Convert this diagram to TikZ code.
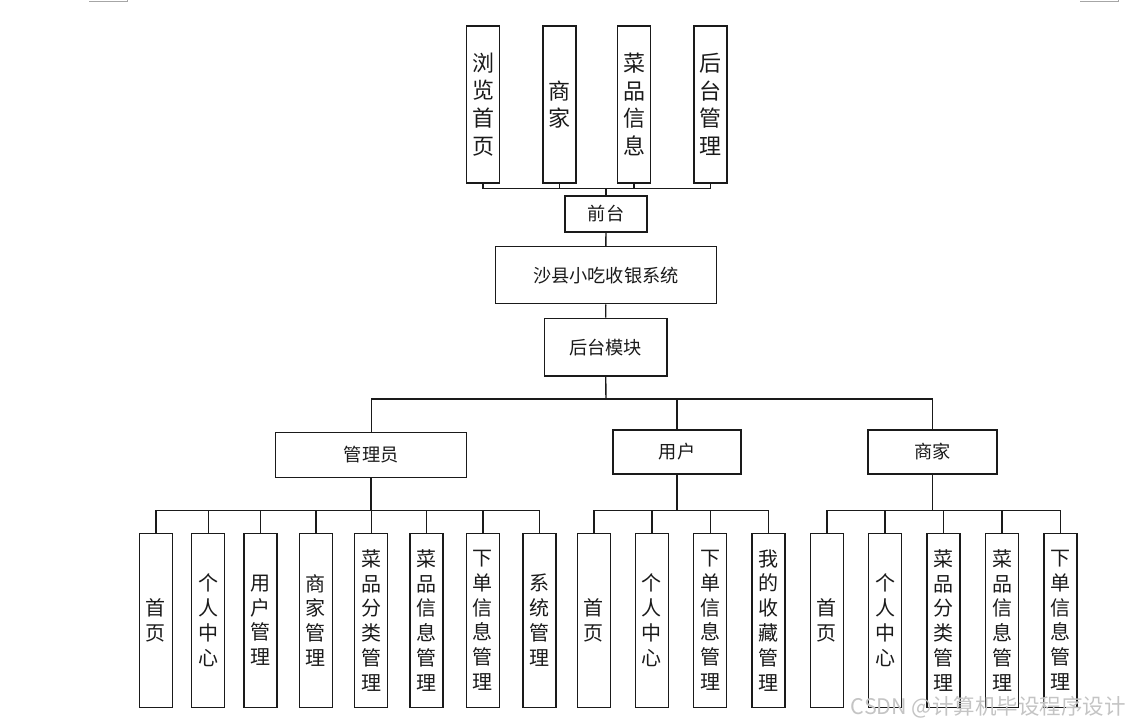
\documentclass[tikz,border=0pt]{standalone}
\usepackage{fontspec}
\newfontfamily\cjk{Noto Sans CJK SC}
\definecolor{ink}{HTML}{1A1A1A}
\definecolor{wm}{HTML}{C4C4C4}
\begin{document}
\begin{tikzpicture}[x=1pt,y=-1pt,
  box/.style={draw=ink, line width=1.4pt, inner sep=0pt, align=center, text=ink},
  vtop/.style={box, minimum width=33pt, minimum height=157pt, font=\cjk\fontsize{22}{27.7}\selectfont},
  vbot/.style={box, minimum width=33pt, minimum height=174pt, font=\cjk\fontsize{20}{24.8}\selectfont},
  hbox/.style={box, font=\cjk\fontsize{18.2}{20}\selectfont},
  ln/.style={draw=ink, line width=1.4pt}]
\useasboundingbox (0,0) rectangle (1130,727);
% page corner marks
\draw[gray!70, line width=0.8pt] (89,1) -- (127,1) -- (127,0);
\draw[gray!70, line width=0.8pt] (1080,1) -- (1118,1) -- (1118,0);
% top
\node[vtop] (t1) at (483,104.5) {浏\\览\\首\\页};
\node[vtop] (t2) at (559.3,104.5) {商\\家};
\node[vtop] (t3) at (634,104.5) {菜\\品\\信\\息};
\node[vtop] (t4) at (710.3,104.5) {后\\台\\管\\理};
\node[hbox, minimum width=82pt, minimum height=36pt] (qt) at (606,214) {前台};
\node[hbox, minimum width=221pt, minimum height=57pt] (sys) at (605.8,275.3) {沙县小吃收银系统};
\node[hbox, minimum width=122.7pt, minimum height=57.7pt] (bk) at (605.7,347.2) {后台模块};
\node[hbox, minimum width=191pt, minimum height=44.6pt] (adm) at (371.2,455) {管理员};
\node[hbox, minimum width=128pt, minimum height=44pt] (usr) at (677,452) {用户};
\node[hbox, minimum width=129pt, minimum height=44pt] (mer) at (932.5,452) {商家};
% admin children
\node[vbot] (a1) at (155.8,620.3) {首\\页};
\node[vbot] (a2) at (208.2,620.3) {个\\人\\中\\心};
\node[vbot] (a3) at (260.5,620.3) {用\\户\\管\\理};
\node[vbot] (a4) at (315.8,620.3) {商\\家\\管\\理};
\node[vbot] (a5) at (371.2,620.3) {菜\\品\\分\\类\\管\\理};
\node[vbot] (a6) at (426.5,620.3) {菜\\品\\信\\息\\管\\理};
\node[vbot] (a7) at (482.8,620.3) {下\\单\\信\\息\\管\\理};
\node[vbot] (a8) at (539.5,620.3) {系\\统\\管\\理};
% user children
\node[vbot] (u1) at (593.8,620.3) {首\\页};
\node[vbot] (u2) at (651.8,620.3) {个\\人\\中\\心};
\node[vbot] (u3) at (710.2,620.3) {下\\单\\信\\息\\管\\理};
\node[vbot] (u4) at (768.4,620.3) {我\\的\\收\\藏\\管\\理};
% merchant children
\node[vbot] (m1) at (826.8,620.3) {首\\页};
\node[vbot] (m2) at (885,620.3) {个\\人\\中\\心};
\node[vbot] (m3) at (943.6,620.3) {菜\\品\\分\\类\\管\\理};
\node[vbot] (m4) at (1002,620.3) {菜\\品\\信\\息\\管\\理};
\node[vbot] (m5) at (1060.4,620.3) {下\\单\\信\\息\\管\\理};
% bus coordinates
\coordinate (b1) at (606,188.3);
\coordinate (b2) at (606,399);
\coordinate (ba) at (371.2,510.7);
\coordinate (bu) at (677,510.7);
\coordinate (bm) at (932.5,510.7);
% connectors
\foreach \n in {t1,t2,t3,t4} \draw[ln] (\n.south) |- (b1);
\draw[ln] (b1) -- (qt.north);
\draw[ln] (qt.south) -- (sys.north);
\draw[ln] (sys.south) -- (bk.north);
\draw[ln] (bk.south) -- (b2);
\foreach \n in {adm,usr,mer} \draw[ln] (b2) -| (\n.north);
\draw[ln, line width=2.2pt] (adm.south) -- (ba);
\draw[ln] (usr.south) -- (bu);
\draw[ln] (mer.south) -- (bm);
\foreach \n in {a1,a2,a3,a4,a5,a6,a7,a8} \draw[ln] (ba) -| (\n.north);
\foreach \n in {u1,u2,u3,u4} \draw[ln] (bu) -| (\n.north);
\foreach \n in {m1,m2,m3,m4,m5} \draw[ln] (bm) -| (\n.north);
% watermark
\node[anchor=east, inner sep=0pt, text=wm, font=\cjk\fontsize{21.5}{24}\selectfont] (wmk) at (1126,707) {CSDN @计算机毕设程序设计};
\end{tikzpicture}
\end{document}
